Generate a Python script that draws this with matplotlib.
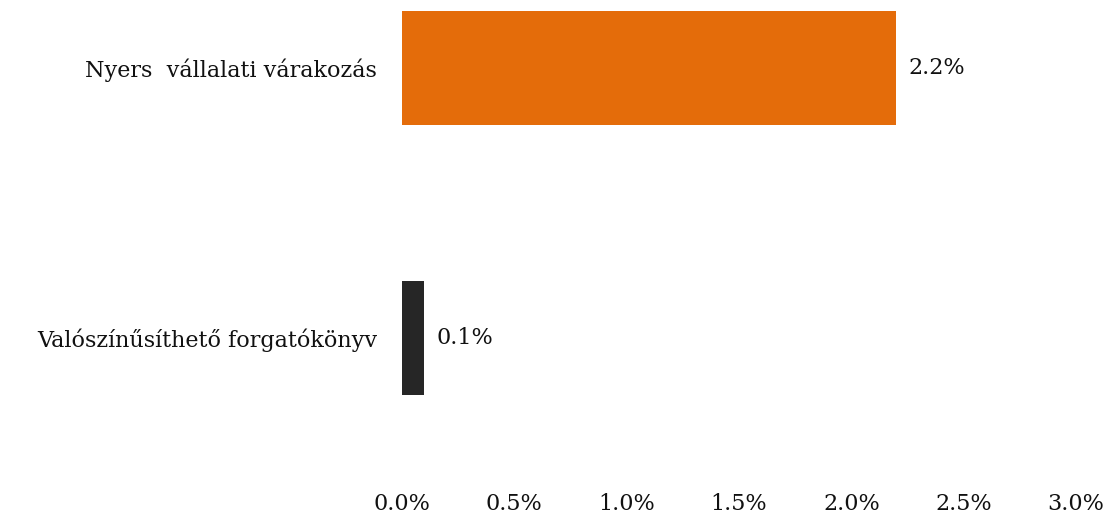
import matplotlib
matplotlib.use("Agg")
import matplotlib.pyplot as plt
from matplotlib.ticker import FuncFormatter

# Chart data
categories = ["Valószínűsíthető forgatókönyv", "Nyers  vállalati várakozás"]
values = [0.1, 2.2]
colors = ["#262626", "#E46C0A"]
x_ticks = [0.0, 0.5, 1.0, 1.5, 2.0, 2.5, 3.0]

plt.rcParams["font.family"] = ["DejaVu Serif"]

fig = plt.figure(figsize=(11.05, 5.22), dpi=100)
ax = fig.add_axes([402 / 1105, 1 - 480 / 522, (1076 - 402) / 1105, 480 / 522])

y_pos = list(range(len(categories)))
bars = ax.barh(y_pos, values, height=0.42, color=colors)

# Value labels next to bars
for y, v in zip(y_pos, values):
    ax.text(v + 0.055, y, f"{v:.1f}%", va="center", ha="left", fontsize=16, color="#111111")

ax.set_xlim(0, 3.0)
ax.set_ylim(-0.526, 1.252)
ax.set_xticks(x_ticks)
ax.xaxis.set_major_formatter(FuncFormatter(lambda x, _: f"{x:.1f}%"))
ax.set_yticks(y_pos)
ax.set_yticklabels(categories)

ax.tick_params(axis="x", length=0, pad=9, labelsize=16, labelcolor="#111111")
ax.tick_params(axis="y", length=0, pad=18, labelsize=16, labelcolor="#111111")
for s in ax.spines.values():
    s.set_visible(False)

fig.savefig("out.png", dpi=100)
